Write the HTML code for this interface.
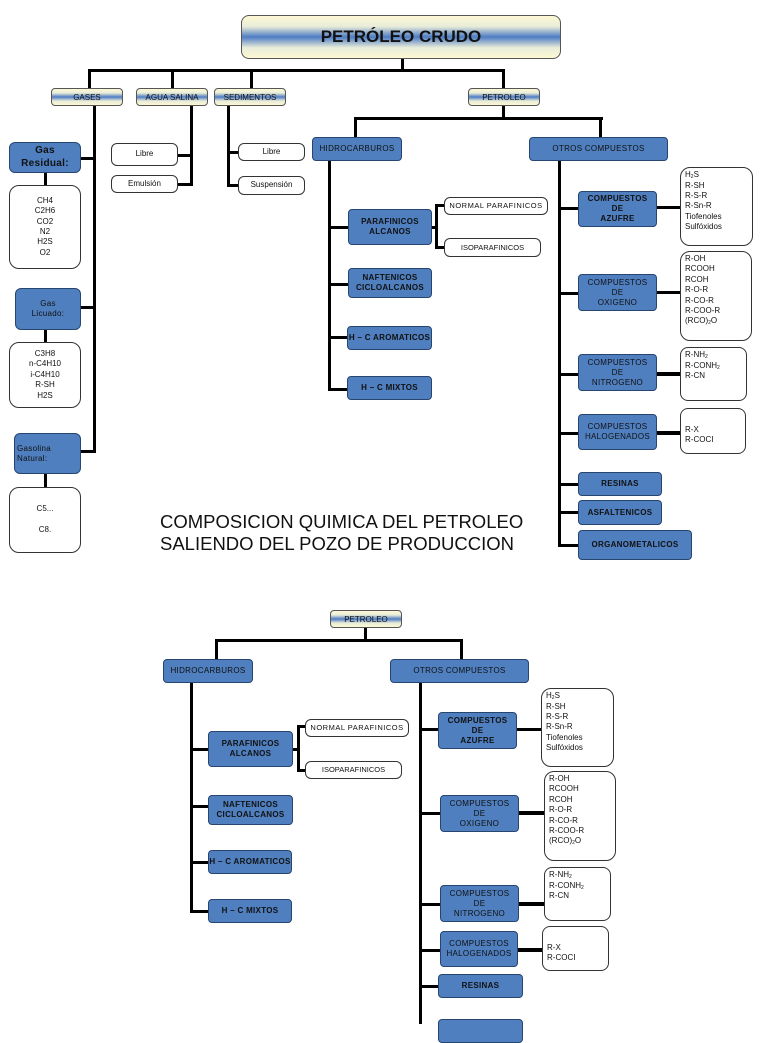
<!DOCTYPE html>
<html><head><meta charset="utf-8"><style>
body{margin:0;width:768px;height:1024px;background:#fff;position:relative;overflow:hidden;font-family:"Liberation Sans",sans-serif;}
div{position:absolute;box-sizing:border-box;}
.l{background:#000;}
.b{background:#4f7fbf;border:1px solid #27466f;border-radius:4px;display:flex;align-items:center;justify-content:center;text-align:center;font-size:8px;font-weight:bold;color:#111;line-height:1.25;letter-spacing:.3px;}
.w{background:#fff;border:1px solid #333;border-radius:6px;font-size:8px;color:#111;line-height:1.3;}
.wc{display:flex;align-items:center;justify-content:center;text-align:center;}
.g{background:linear-gradient(to bottom,#fdf8d4 0%,#e8ecd8 25%,#4e7cc4 50%,#e8ecd8 75%,#fdf8d4 100%);border:1px solid #555;border-radius:4px;display:flex;align-items:center;justify-content:center;font-size:8px;color:#111;}
.lst{padding:2px 0 0 4px;}
sub{font-size:5px;vertical-align:-1px;}
</style></head><body>
<!-- top title -->
<div class="g" style="left:241px;top:15px;width:320px;height:44px;border-radius:8px;font-size:17px;font-weight:bold;">PETRÓLEO CRUDO</div>
<div class="l" style="left:401px;top:59px;width:3px;height:12px"></div>
<div class="l" style="left:88px;top:69px;width:417px;height:3px"></div>
<div class="l" style="left:88px;top:69px;width:3px;height:19px"></div>
<div class="l" style="left:171px;top:69px;width:3px;height:19px"></div>
<div class="l" style="left:250px;top:69px;width:3px;height:19px"></div>
<div class="l" style="left:502px;top:69px;width:3px;height:19px"></div>
<div class="g" style="left:51px;top:88px;width:72px;height:18px">GASES</div>
<div class="g" style="left:136px;top:88px;width:72px;height:18px">AGUA SALINA</div>
<div class="g" style="left:214px;top:88px;width:72px;height:18px">SEDIMENTOS</div>
<div class="g" style="left:468px;top:88px;width:72px;height:18px">PETROLEO</div>
<!-- gases -->
<div class="l" style="left:93px;top:106px;width:3px;height:347px"></div>
<div class="l" style="left:80px;top:157px;width:15px;height:3px"></div>
<div class="l" style="left:81px;top:306px;width:14px;height:3px"></div>
<div class="l" style="left:81px;top:450px;width:14px;height:3px"></div>
<div class="b" style="left:9px;top:142px;width:72px;height:31px;font-size:10px;border-radius:6px">Gas<br>Residual:</div>
<div class="l" style="left:44px;top:173px;width:3px;height:12px"></div>
<div class="w wc" style="left:9px;top:185px;width:72px;height:84px;border-radius:10px">CH4<br>C2H6<br>CO2<br>N2<br>H2S<br>O2</div>
<div class="b" style="left:15px;top:288px;width:66px;height:42px;font-weight:normal;font-size:8px;border-radius:6px">Gas<br>Licuado:</div>
<div class="l" style="left:44px;top:330px;width:3px;height:12px"></div>
<div class="w wc" style="left:9px;top:342px;width:72px;height:66px;border-radius:10px">C3H8<br>n-C4H10<br>i-C4H10<br>R-SH<br>H2S</div>
<div class="b" style="left:14px;top:433px;width:67px;height:41px;font-weight:normal;justify-content:flex-start;text-align:left;padding-left:2px;border-radius:6px">Gasolina<br>Natural:</div>
<div class="l" style="left:44px;top:474px;width:3px;height:13px"></div>
<div class="w wc" style="left:9px;top:487px;width:72px;height:66px;border-radius:10px">C5...<br><br>C8.</div>
<!-- agua -->
<div class="l" style="left:190px;top:106px;width:3px;height:80px"></div>
<div class="l" style="left:178px;top:154px;width:14px;height:3px"></div>
<div class="l" style="left:178px;top:183px;width:14px;height:3px"></div>
<div class="w wc" style="left:111px;top:143px;width:67px;height:23px">Libre</div>
<div class="w wc" style="left:111px;top:175px;width:67px;height:18px">Emulsión</div>
<!-- sedimentos -->
<div class="l" style="left:227px;top:106px;width:3px;height:81px"></div>
<div class="l" style="left:228px;top:151px;width:11px;height:3px"></div>
<div class="l" style="left:228px;top:184px;width:11px;height:3px"></div>
<div class="w wc" style="left:238px;top:143px;width:67px;height:18px">Libre</div>
<div class="w wc" style="left:238px;top:176px;width:67px;height:19px">Suspensión</div>
<!-- petroleo 1 -->
<div class="l" style="left:502px;top:106px;width:3px;height:13px"></div>
<div class="l" style="left:354px;top:117px;width:249px;height:3px"></div>
<div class="l" style="left:354px;top:117px;width:3px;height:20px"></div>
<div class="l" style="left:599px;top:117px;width:3px;height:20px"></div>
<div class="b" style="left:312px;top:137px;width:90px;height:24px;font-weight:normal">HIDROCARBUROS</div>
<div class="b" style="left:529px;top:137px;width:139px;height:24px;font-weight:normal">OTROS COMPUESTOS</div>
<div class="l" style="left:328px;top:161px;width:3px;height:230px"></div>
<div class="l" style="left:328px;top:226px;width:20px;height:3px"></div>
<div class="l" style="left:328px;top:283px;width:20px;height:3px"></div>
<div class="l" style="left:328px;top:336px;width:20px;height:3px"></div>
<div class="l" style="left:328px;top:388px;width:20px;height:3px"></div>
<div class="b" style="left:348px;top:209px;width:84px;height:36px">PARAFINICOS<br>ALCANOS</div>
<div class="b" style="left:348px;top:268px;width:84px;height:30px">NAFTENICOS<br>CICLOALCANOS</div>
<div class="b" style="left:347px;top:326px;width:85px;height:24px">H – C AROMATICOS</div>
<div class="b" style="left:347px;top:376px;width:85px;height:24px">H – C MIXTOS</div>
<div class="l" style="left:432px;top:226px;width:5px;height:3px"></div>
<div class="l" style="left:435px;top:204px;width:3px;height:45px"></div>
<div class="l" style="left:435px;top:204px;width:9px;height:3px"></div>
<div class="l" style="left:435px;top:246px;width:9px;height:3px"></div>
<div class="w wc" style="left:444px;top:197px;width:104px;height:18px;font-size:7.5px;letter-spacing:.5px">NORMAL PARAFINICOS</div>
<div class="w wc" style="left:444px;top:238px;width:97px;height:19px;font-size:7.5px">ISOPARAFINICOS</div>
<div class="l" style="left:558px;top:161px;width:3px;height:386px"></div>
<div class="l" style="left:558px;top:207px;width:20px;height:3px"></div>
<div class="l" style="left:558px;top:292px;width:20px;height:3px"></div>
<div class="l" style="left:558px;top:373px;width:20px;height:3px"></div>
<div class="l" style="left:558px;top:432px;width:20px;height:3px"></div>
<div class="l" style="left:558px;top:483px;width:20px;height:3px"></div>
<div class="l" style="left:558px;top:511px;width:20px;height:3px"></div>
<div class="l" style="left:558px;top:544px;width:20px;height:3px"></div>
<div class="b" style="left:578px;top:191px;width:79px;height:36px">COMPUESTOS<br>DE<br>AZUFRE</div>
<div class="b" style="left:578px;top:274px;width:79px;height:37px;font-weight:normal">COMPUESTOS<br>DE<br>OXIGENO</div>
<div class="b" style="left:578px;top:354px;width:79px;height:37px;font-weight:normal">COMPUESTOS<br>DE<br>NITROGENO</div>
<div class="b" style="left:578px;top:414px;width:79px;height:36px;font-weight:normal">COMPUESTOS<br>HALOGENADOS</div>
<div class="b" style="left:578px;top:472px;width:84px;height:24px">RESINAS</div>
<div class="b" style="left:578px;top:500px;width:84px;height:25px">ASFALTENICOS</div>
<div class="b" style="left:578px;top:530px;width:114px;height:30px">ORGANOMETALICOS</div>
<div class="l" style="left:657px;top:206px;width:23px;height:3px"></div>
<div class="l" style="left:657px;top:291px;width:23px;height:3px"></div>
<div class="l" style="left:657px;top:372px;width:23px;height:4px"></div>
<div class="l" style="left:657px;top:431px;width:23px;height:4px"></div>
<div class="w lst" style="left:680px;top:167px;width:73px;height:79px;border-radius:10px">H<sub>2</sub>S<br>R-SH<br>R-S-R<br>R-Sn-R<br>Tiofenoles<br>Sulfóxidos</div>
<div class="w lst" style="left:680px;top:251px;width:72px;height:90px;border-radius:10px">R-OH<br>RCOOH<br>RCOH<br>R-O-R<br>R-CO-R<br>R-COO-R<br>(RCO)<sub>2</sub>O</div>
<div class="w lst" style="left:680px;top:347px;width:67px;height:54px;border-radius:8px">R-NH<sub>2</sub><br>R-CONH<sub>2</sub><br>R-CN</div>
<div class="w lst" style="left:680px;top:408px;width:66px;height:46px;border-radius:8px;padding-top:16px">R-X<br>R-COCI</div>
<div style="left:160px;top:511px;font-size:18.5px;line-height:22px;color:#111;white-space:nowrap">COMPOSICION QUIMICA DEL PETROLEO<br>SALIENDO DEL POZO DE PRODUCCION</div>
<!-- bottom diagram -->
<div class="g" style="left:330px;top:610px;width:72px;height:18px">PETROLEO</div>
<div class="l" style="left:364px;top:628px;width:3px;height:13px"></div>
<div class="l" style="left:215px;top:639px;width:248px;height:3px"></div>
<div class="l" style="left:215px;top:639px;width:3px;height:20px"></div>
<div class="l" style="left:460px;top:639px;width:3px;height:20px"></div>
<div class="b" style="left:163px;top:659px;width:90px;height:24px;font-weight:normal">HIDROCARBUROS</div>
<div class="b" style="left:390px;top:659px;width:139px;height:24px;font-weight:normal">OTROS COMPUESTOS</div>
<div class="l" style="left:190px;top:683px;width:3px;height:230px"></div>
<div class="l" style="left:190px;top:748px;width:18px;height:3px"></div>
<div class="l" style="left:190px;top:805px;width:18px;height:3px"></div>
<div class="l" style="left:190px;top:861px;width:18px;height:3px"></div>
<div class="l" style="left:190px;top:910px;width:18px;height:3px"></div>
<div class="b" style="left:208px;top:731px;width:85px;height:36px">PARAFINICOS<br>ALCANOS</div>
<div class="b" style="left:208px;top:795px;width:85px;height:30px">NAFTENICOS<br>CICLOALCANOS</div>
<div class="b" style="left:208px;top:850px;width:84px;height:24px">H – C AROMATICOS</div>
<div class="b" style="left:208px;top:899px;width:84px;height:24px">H – C MIXTOS</div>
<div class="l" style="left:293px;top:748px;width:5px;height:3px"></div>
<div class="l" style="left:297px;top:725px;width:3px;height:47px"></div>
<div class="l" style="left:297px;top:725px;width:8px;height:3px"></div>
<div class="l" style="left:297px;top:769px;width:8px;height:3px"></div>
<div class="w wc" style="left:305px;top:719px;width:104px;height:18px;font-size:7.5px;letter-spacing:.5px">NORMAL PARAFINICOS</div>
<div class="w wc" style="left:305px;top:761px;width:97px;height:18px;font-size:7.5px">ISOPARAFINICOS</div>
<div class="l" style="left:419px;top:683px;width:3px;height:341px"></div>
<div class="l" style="left:419px;top:728px;width:19px;height:3px"></div>
<div class="l" style="left:419px;top:812px;width:21px;height:3px"></div>
<div class="l" style="left:419px;top:903px;width:21px;height:3px"></div>
<div class="l" style="left:419px;top:949px;width:21px;height:3px"></div>
<div class="l" style="left:419px;top:985px;width:19px;height:3px"></div>
<div class="b" style="left:438px;top:712px;width:79px;height:37px">COMPUESTOS<br>DE<br>AZUFRE</div>
<div class="b" style="left:440px;top:795px;width:79px;height:37px;font-weight:normal">COMPUESTOS<br>DE<br>OXIGENO</div>
<div class="b" style="left:440px;top:885px;width:79px;height:37px;font-weight:normal">COMPUESTOS<br>DE<br>NITROGENO</div>
<div class="b" style="left:440px;top:931px;width:78px;height:36px;font-weight:normal">COMPUESTOS<br>HALOGENADOS</div>
<div class="b" style="left:438px;top:974px;width:85px;height:24px">RESINAS</div>
<div class="b" style="left:438px;top:1019px;width:85px;height:24px"></div>
<div class="l" style="left:517px;top:728px;width:24px;height:3px"></div>
<div class="l" style="left:519px;top:811px;width:25px;height:4px"></div>
<div class="l" style="left:519px;top:902px;width:25px;height:4px"></div>
<div class="l" style="left:518px;top:948px;width:24px;height:4px"></div>
<div class="w lst" style="left:541px;top:688px;width:73px;height:79px;border-radius:10px">H<sub>2</sub>S<br>R-SH<br>R-S-R<br>R-Sn-R<br>Tiofenoles<br>Sulfóxidos</div>
<div class="w lst" style="left:544px;top:771px;width:72px;height:90px;border-radius:10px">R-OH<br>RCOOH<br>RCOH<br>R-O-R<br>R-CO-R<br>R-COO-R<br>(RCO)<sub>2</sub>O</div>
<div class="w lst" style="left:544px;top:867px;width:67px;height:54px;border-radius:8px">R-NH<sub>2</sub><br>R-CONH<sub>2</sub><br>R-CN</div>
<div class="w lst" style="left:542px;top:926px;width:67px;height:45px;border-radius:8px;padding-top:16px">R-X<br>R-COCI</div>
</body></html>
